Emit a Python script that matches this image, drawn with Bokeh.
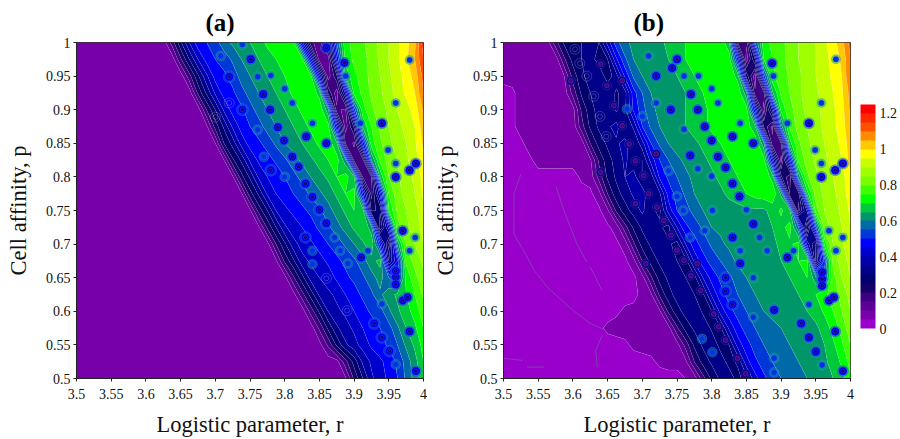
import numpy as np
from bokeh.plotting import figure
from bokeh.layouts import row
from bokeh.models import Range1d, FixedTicker, ColorBar, LinearColorMapper
from bokeh.embed import file_html
from bokeh.resources import INLINE

r_values = [3.5 + 0.0125 * i for i in range(41)]
p_values = [0.5 + 0.025 * j for j in range(21)]
r_ticks = [3.5, 3.55, 3.6, 3.65, 3.7, 3.75, 3.8, 3.85, 3.9, 3.95, 4.0]
r_tick_labels = ["3.5", "3.55", "3.6", "3.65", "3.7", "3.75", "3.8", "3.85", "3.9", "3.95", "4"]
p_ticks = [0.5, 0.55, 0.6, 0.65, 0.7, 0.75, 0.8, 0.85, 0.9, 0.95, 1.0]
p_tick_labels = ["0.5", "0.55", "0.6", "0.65", "0.7", "0.75", "0.8", "0.85", "0.9", "0.95", "1"]
levels = [0.05 * i for i in range(26)]
palette = ["#9900cc", "#7700aa", "#5c0096", "#3c0080", "#14006a", "#00006e", "#000088", "#0000aa",
           "#0000cc", "#0000ff", "#0038d8", "#006aa8", "#00966a", "#00c83c", "#00ff00", "#40ff00",
           "#78ff00", "#a0ff00", "#c8ff00", "#ffff00", "#ffc800", "#ff8c00", "#ff5000", "#ff2800", "#ff0000"]
cbar_ticks = [0, 0.2, 0.4, 0.6, 0.8, 1, 1.2]

# Rows from p = 1 (top) to p = 0.5, values in hundredths
grid_a = [
 [7]*11+[17,29,40,48,50,53,58,61,63,65,68,71,73,75,71,42,16,13,25,55,74,76,79,83,86,90,94,98,104,118],
 [7]*12+[19,30,40,47,50,52,56,60,62,65,68,70,72,74,72,44,12,12,45,72,76,78,82,86,90,94,99,105,115],
 [7]*13+[18,29,39,47,49,52,57,60,62,65,68,70,72,74,72,42,12,24,66,74,77,82,85,89,93,97,102,112],
 [7]*14+[21,31,41,47,49,53,57,60,63,65,68,71,73,74,68,24,12,36,72,76,81,84,88,92,96,100,110],
 [7]*15+[20,30,41,47,49,53,57,60,62,65,68,71,73,74,62,16,14,52,73,79,83,86,90,93,97,106],
 [7]*15+[9,22,31,41,47,50,53,57,60,63,65,68,71,73,72,44,12,26,66,75,81,85,88,92,95,103],
 [7]*16+[10,25,32,42,47,49,52,56,60,62,65,68,71,73,66,20,14,46,73,79,84,87,90,94,101],
 [7]*17+[10,24,31,41,46,48,51,54,58,61,64,67,70,72,62,18,18,60,76,82,85,89,93,99],
 [7]*18+[9,23,31,41,45,47,50,53,57,60,63,66,70,72,66,20,20,66,80,84,88,91,97],
 [7]*19+[9,23,31,41,45,47,50,52,56,59,62,66,70,72,45,18,42,75,83,87,90,96],
 [7]*20+[9,22,30,40,44,46,49,51,54,58,62,66,70,68,24,26,70,81,85,88,94],
 [7]*21+[9,21,30,39,43,45,48,51,54,58,62,66,70,62,20,42,78,84,87,92],
 [7]*22+[8,20,29,38,42,44,47,50,52,56,60,64,69,48,22,62,80,85,90],
 [7]*23+[9,21,29,38,41,43,46,49,51,54,58,63,67,30,45,76,82,86],
 [7]*24+[8,19,28,37,40,42,46,49,51,54,58,62,55,50,72,78,84],
 [7]*25+[8,18,27,36,39,41,45,48,51,54,59,63,66,70,75,81],
 [7]*26+[7,17,26,35,39,41,45,48,51,53,59,64,68,72,78],
 [7]*27+[7,16,26,34,38,41,45,47,50,53,59,65,69,75],
 [7]*28+[8,16,26,34,38,42,46,48,51,55,61,66,72],
 [7]*30+[8,18,27,36,41,44,47,51,57,63,70],
 [7]*31+[9,21,30,39,43,46,50,56,62,68],
]
grid_b = [
 [7]*6+[18,26,29,30,33,30,42,53,59,61,62,63,64,66,68,70,72,73,74,74,66,20,16,55,73,76,78,82,85,87,90,94,98,103,112],
 [7]*7+[19,27,30,32,28,30,44,54,60,62,63,64,65,67,70,72,73,74,74,73,48,12,30,70,75,78,82,85,87,90,93,97,101,110],
 [7]*7+[10,22,29,32,34,27,33,46,56,60,62,63,64,65,67,70,72,73,74,74,68,28,12,52,74,77,81,84,87,90,93,96,100,110],
 [3,4]+[7]*6+[17,26,30,33,35,29,33,48,55,60,62,63,64,65,67,70,72,73,74,74,62,16,18,64,76,80,84,87,89,92,95,99,107],
 [3,4]+[7]*6+[8,21,28,32,35,29,34,46,53,59,61,63,64,65,67,69,71,73,74,74,72,44,12,36,72,78,83,86,89,91,94,98,106],
 [3,4]+[7]*7+[18,26,31,34,37,30,36,50,56,60,62,64,65,67,69,71,73,74,74,73,66,24,14,58,76,82,85,88,91,94,97,105],
 [3,3,4]+[7]*7+[20,27,31,34,37,30,38,50,56,60,62,63,64,66,68,70,72,73,74,74,62,16,20,68,79,84,87,90,93,96,103],
 [3,3,3,4]+[7]*6+[9,21,28,32,36,32,30,42,50,55,59,61,62,64,66,68,70,72,73,74,72,44,13,44,76,82,86,89,92,95,102],
 [3]*9+[6,7,17,26,31,35,37,30,32,46,51,55,59,61,62,64,66,68,70,72,73,74,68,26,16,62,79,84,87,90,93,99],
 [3]*10+[4,8,20,28,32,36,38,30,34,47,52,56,60,61,62,64,66,68,70,72,73,74,64,20,22,68,82,86,89,92,98],
 [3]*11+[4,9,21,28,32,36,31,29,42,50,53,57,60,61,62,63,63,64,64,64,67,71,66,18,36,78,85,88,91,96],
 [3]*12+[4,7,18,26,31,35,31,28,40,49,52,56,60,61,62,63,63,64,64,65,68,72,56,20,54,82,87,90,95],
 [3]*13+[4,7,19,27,31,35,31,28,40,48,52,56,59,61,62,63,63,64,64,66,69,72,38,24,72,85,89,94],
 [3]*14+[4,8,20,27,31,35,30,28,41,48,52,55,58,61,62,63,63,64,65,67,70,72,24,52,82,87,92],
 [3]*15+[4,8,19,27,31,34,30,28,40,47,51,54,57,60,61,62,63,64,65,67,70,62,58,78,85,90],
 [3]*15+[4,6,9,21,28,32,35,30,29,41,48,52,55,58,60,61,62,63,64,65,67,70,74,77,82,87],
 [3]*13+[4,6,6,7,7,9,21,28,32,34,29,30,42,48,52,55,58,60,61,62,63,64,65,67,71,75,80,85],
 [3]*11+[4,6]+[7]*6+[8,19,27,31,34,29,29,41,48,52,55,57,59,60,61,62,63,64,67,72,77,83],
 [3]*14+[4,6]+[7]*4+[8,17,26,31,34,28,30,42,48,52,55,57,59,60,61,62,63,65,69,74,80],
 [3]*17+[4,6,7,7,9,20,27,31,33,28,31,43,49,52,55,57,59,60,61,62,64,67,71,77],
 [3]*21+[5,7,18,26,31,33,28,33,43,49,52,55,57,59,60,61,62,65,68,74],
]

# Isolated dips in the field
deep_a_r = [3.751,3.72,3.769,3.739,3.779,3.79,3.831,3.799,3.86,3.811,3.82,3.78,3.83,3.84,3.85,3.86,3.83,3.91,3.94,3.96,3.98,3.989,3.97,3.96,3.96,3.96,3.97,3.977,3.929,3.94,3.951,3.98,3.989,3.886,3.86]
deep_a_p = [0.975,0.949,0.923,0.9,0.9,0.874,0.86,0.854,0.85,0.83,0.815,0.81,0.79,0.77,0.751,0.731,0.71,0.68,0.88,0.8,0.81,0.82,0.72,0.651,0.66,0.64,0.616,0.621,0.582,0.561,0.541,0.57,0.511,0.97,0.992]
mild_a_r = [3.708,3.739,3.761,3.78,3.8,3.811,3.84,3.77,3.8,3.872,3.88,3.84,3.84,3.891,3.92,3.96,3.949,3.96,3.988,3.98,3.94,3.96,3.888,3.909,3.98,3.761]
mild_a_p = [0.98,0.997,0.949,0.951,0.931,0.91,0.88,0.83,0.8,0.71,0.69,0.69,0.67,0.671,0.69,0.91,0.84,0.82,0.71,0.69,0.611,0.521,0.95,0.88,0.974,0.87]
ring_a_r = [3.7,3.72,3.86,3.89]
ring_a_p = [0.889,0.91,0.649,0.601]
deep_b_r = [3.769,3.741,3.75,3.743,3.72,3.77,3.78,3.79,3.8,3.83,3.86,3.809,3.82,3.83,3.84,3.86,3.83,3.841,3.909,3.82,3.82,3.83,3.89,3.94,3.958,3.978,3.989,3.959,3.959,3.959,3.969,3.976,3.929,3.94,3.95,3.978,3.989,3.887]
deep_b_p = [0.832,0.9,0.975,0.962,0.95,0.923,0.9,0.875,0.854,0.86,0.85,0.83,0.814,0.79,0.771,0.73,0.71,0.671,0.68,0.65,0.63,0.61,0.602,0.88,0.8,0.81,0.82,0.648,0.658,0.638,0.616,0.621,0.582,0.561,0.54,0.57,0.511,0.969]
mild_b_r = [3.678,3.7,3.786,3.801,3.75,3.759,3.769,3.79,3.801,3.738,3.78,3.8,3.76,3.72,3.709,3.76,3.781,3.8,3.809,3.841,3.85,3.869,3.841,3.88,3.918,3.86,3.86,3.89,3.89,3.958,3.949,3.958,3.969,3.989,3.979,3.94,3.959,3.889,3.909,3.979]
mild_b_p = [0.901,0.89,0.559,0.539,0.771,0.75,0.71,0.72,0.75,0.809,0.812,0.801,0.871,0.91,0.98,0.95,0.95,0.931,0.91,0.88,0.751,0.71,0.69,0.69,0.69,0.65,0.591,0.53,0.509,0.91,0.84,0.82,0.72,0.71,0.69,0.61,0.52,0.95,0.88,0.975]
channel_b_r = [3.597,3.64,3.649,3.671,3.659,3.671,3.681,3.69,3.72,3.64,3.702,3.709,3.69,3.721,3.731,3.741,3.75,3.76,3.779,3.77,3.705,3.784,3.803,3.81,3.82,3.837,3.849]
channel_b_p = [0.943,0.968,0.936,0.943,0.906,0.876,0.849,0.824,0.834,0.807,0.802,0.775,0.76,0.755,0.735,0.713,0.691,0.676,0.671,0.653,0.671,0.631,0.596,0.577,0.557,0.53,0.507]
ring_b_r = [3.603,3.61,3.62,3.63,3.639,3.648]
ring_b_p = [0.99,0.969,0.95,0.92,0.89,0.86]

# Faint isolines in the pale region of panel (b)
faint_r = [[3.525,3.515,3.515,3.534,3.544,3.563,3.597,3.625,3.647],[3.576,3.587,3.606,3.62],[3.625,3.642],[3.5,3.527],[3.534,3.558],[3.642,3.633,3.635]]
faint_p = [[0.804,0.775,0.715,0.681,0.661,0.636,0.604,0.582,0.572],[0.785,0.75,0.7,0.673],[0.666,0.631],[0.53,0.527],[0.517,0.517],[0.564,0.542,0.517]]

SERIF = "Liberation Serif"
THIN = dict(line_color="#ffffff", line_alpha=0.22, line_width=0.5)


def panel(title, grid, deep_r, deep_p, mild_r, mild_p, ring_r, ring_p, left, right, offset):
    f = figure(frame_width=347, frame_height=336, min_border_left=left, min_border_right=right,
               min_border_top=41, min_border_bottom=48, x_range=Range1d(3.5, 4), y_range=Range1d(0.5, 1),
               output_backend="svg", toolbar_location=None, title=title)
    f.title.text_font = SERIF
    f.title.text_font_size = "25px"
    f.title.text_font_style = "bold"
    f.title.align = "left"
    f.title.offset = offset
    f.title.standoff = 13
    f.title.text_color = "black"
    f.grid.visible = False
    f.outline_line_color = "#333333"
    z = np.array(grid[::-1], dtype=float) / 100
    f.contour(np.array(r_values), np.array(p_values), z, levels, fill_color=palette,
              line_color="#ffffff", line_alpha=0.22, line_width=0.5)
    f.scatter(mild_r, mild_p, size=10, fill_color="#0090a0", fill_alpha=0.5, **THIN)
    f.scatter(mild_r, mild_p, size=6, fill_color="#0030e0", **THIN)
    f.scatter(deep_r, deep_p, size=12, fill_color="#0050c8", fill_alpha=0.55, **THIN)
    f.scatter(deep_r, deep_p, size=8.5, fill_color="#0000f0", **THIN)
    f.scatter(deep_r, deep_p, size=4, fill_color="#000088", **THIN)
    f.scatter(deep_r, deep_p, size=2, fill_color="#3c0080", line_color=None)
    f.scatter(ring_r, ring_p, size=10, fill_alpha=0, line_color="#ffffff", line_alpha=0.35, line_width=0.6)
    f.scatter(ring_r, ring_p, size=5, fill_alpha=0, line_color="#ffffff", line_alpha=0.35, line_width=0.6)
    for ax, ticks, labels, name in ((f.xaxis[0], r_ticks, r_tick_labels, "Logistic parameter, r"),
                                    (f.yaxis[0], p_ticks, p_tick_labels, "Cell affinity, p")):
        ax.ticker = FixedTicker(ticks=ticks)
        ax.major_label_overrides = dict(zip(ticks, labels))
        ax.minor_tick_line_color = None
        ax.major_tick_in = 0
        ax.major_tick_out = 3
        ax.major_tick_line_color = "#222222"
        ax.axis_line_color = "#222222"
        ax.major_label_text_font = SERIF
        ax.major_label_text_font_size = "14px"
        ax.major_label_text_color = "#111111"
        ax.axis_label = name
        ax.axis_label_text_font = SERIF
        ax.axis_label_text_font_size = "22.5px"
        ax.axis_label_text_font_style = "normal"
        ax.axis_label_text_color = "#111111"
    f.xaxis[0].major_label_standoff = 7
    f.xaxis[0].axis_label_standoff = 10
    f.yaxis[0].major_label_standoff = 3
    f.yaxis[0].axis_label_standoff = 12
    f.yaxis[0].major_label_orientation = "horizontal"
    return f


pa = panel("(a)", grid_a, deep_a_r, deep_a_p, mild_a_r, mild_a_p, ring_a_r, ring_a_p, 76, 6, 129)
pb = panel("(b)", grid_b, deep_b_r, deep_b_p, mild_b_r, mild_b_p, ring_b_r, ring_b_p, 74, 46, 130)
pb.multi_line(faint_r, faint_p, line_color="#7d4fa8", line_width=0.8)
pb.scatter(channel_b_r, channel_b_p, size=9, fill_color="#000088", **THIN)
pb.scatter(channel_b_r, channel_b_p, size=5, fill_color="#4a0088", **THIN)

mapper = LinearColorMapper(palette=palette, low=0, high=1.25)
cb = ColorBar(color_mapper=mapper, ticker=FixedTicker(ticks=cbar_ticks),
              major_label_overrides={0: "0", 0.2: "0.2", 0.4: "0.4", 0.6: "0.6", 0.8: "0.8", 1: "1", 1.2: "1.2"},
              width=15, height=224, location=(10, 50), margin=0, padding=0, label_standoff=4,
              major_tick_line_color=None, bar_line_color=None, border_line_color=None, background_fill_alpha=0,
              major_label_text_font=SERIF, major_label_text_font_size="14px", major_label_text_color="#111111")
pb.add_layout(cb, "right")

open("out.html", "w").write(file_html(row(pa, pb, spacing=0), INLINE))
